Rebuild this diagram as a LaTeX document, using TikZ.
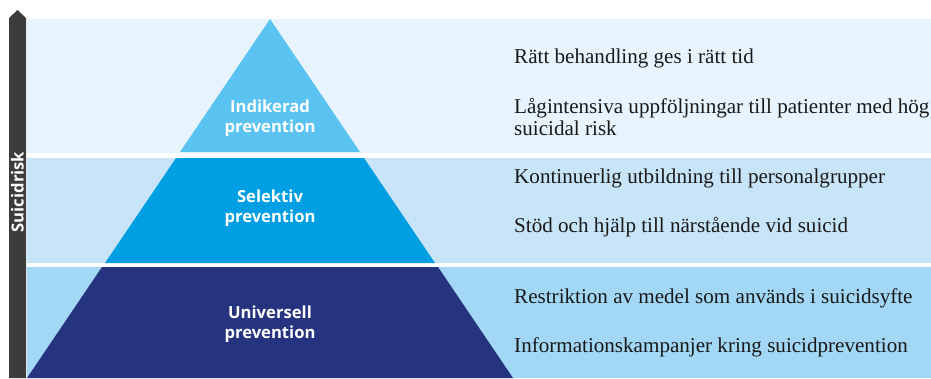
\documentclass[tikz,border=0pt]{standalone}
\usepackage{fontspec}
\setmainfont{Liberation Serif}
\setsansfont{Open Sans}
\usepackage{tikz}

\definecolor{bandtop}{HTML}{E8F4FD}
\definecolor{bandmid}{HTML}{C8E4F8}
\definecolor{bandlow}{HTML}{A2D7F5}
\definecolor{indikerad}{HTML}{5BC3F1}
\definecolor{selektiv}{HTML}{009FE3}
\definecolor{universell}{HTML}{26337F}
\definecolor{riskbar}{HTML}{3C3C3C}

\tikzset{
  level/.style={font=\sffamily\bfseries\fontsize{14.2}{17}\selectfont, text=white, align=center},
  measure/.style={font=\fontsize{18}{18.7}\selectfont, anchor=base west, align=left, inner sep=0pt, text=black!90},
}

\begin{document}
\begin{tikzpicture}[x=0.03cm,y=-0.03cm]

    \useasboundingbox (0,0) rectangle (931,378);

    \fill[bandtop] (27,19) rectangle (931,153);
    \fill[bandmid] (27,158) rectangle (931,263);
    \fill[bandlow] (27,267) rectangle (931,378);

    \fill[indikerad] (270,19) -- (360,152) -- (180,152) -- cycle;
    \fill[selektiv] (176,158) -- (364,158) -- (435,263) -- (105,263) -- cycle;
    \fill[universell] (102,267) -- (438,267) -- (513,378) -- (27,378) -- cycle;

    \fill[riskbar] (9,378) -- (9,18) -- (17.5,10) -- (26,18) -- (26,378) -- cycle;
    \node[level, rotate=90] (risk) at (17.5,192) {Suicidrisk};

    \node[level] (ind) at (270,118) {Indikerad\\prevention};
    \node[level] (sel) at (270,208) {Selektiv\\prevention};
    \node[level] (uni) at (270,324) {Universell\\prevention};

    \node[measure] (ind1) at (514,63) {Rätt behandling ges i rätt tid};
    \node[measure] (ind2) at (514,135) {Lågintensiva uppföljningar till patienter med hög\\suicidal risk};
    \node[measure] (sel1) at (514,183) {Kontinuerlig utbildning till personalgrupper};
    \node[measure] (sel2) at (514,232) {Stöd och hjälp till närstående vid suicid};
    \node[measure] (uni1) at (514,303) {Restriktion av medel som används i suicidsyfte};
    \node[measure] (uni2) at (514,352) {Informationskampanjer kring suicidprevention};

\end{tikzpicture}
\end{document}
